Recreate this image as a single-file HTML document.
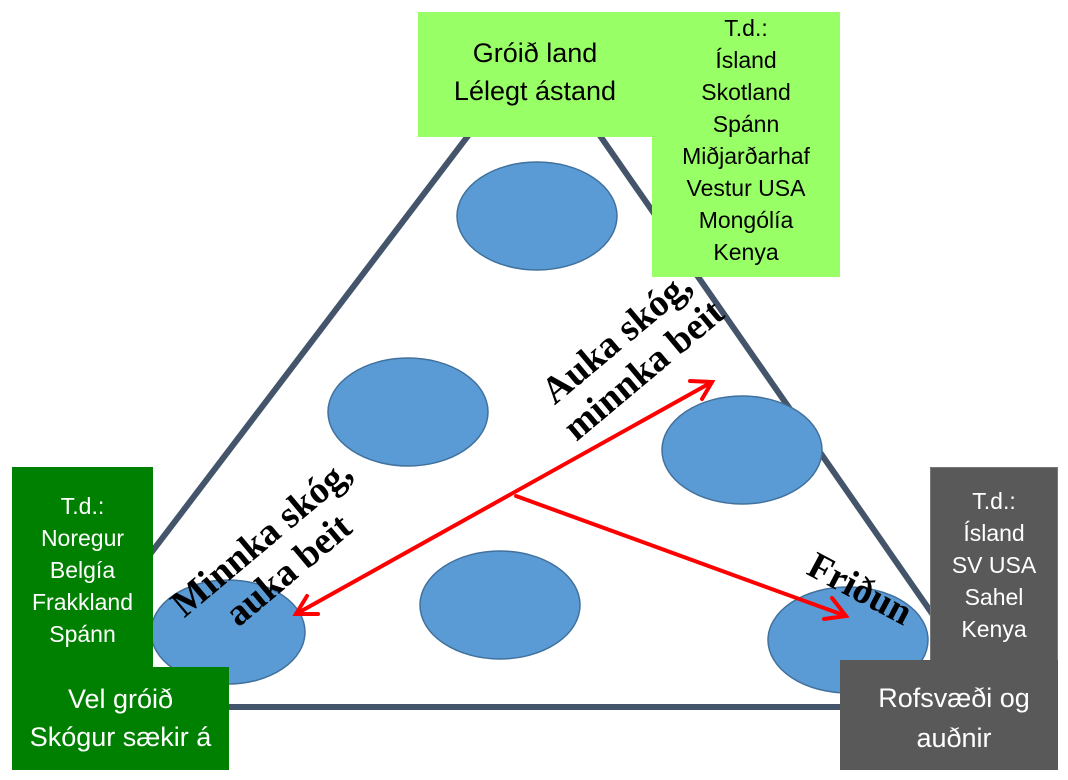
<!DOCTYPE html>
<html><head><meta charset="utf-8"><style>
body{margin:0;width:1068px;height:780px;background:#fff;position:relative;overflow:hidden;font-family:"Liberation Sans",sans-serif}
.b{position:absolute}
.t{position:absolute;text-align:center;font-size:23px;line-height:32px}
.r{position:absolute;font-family:"Liberation Serif",serif;font-weight:bold;font-size:38px;line-height:42px;text-align:center;white-space:nowrap}
</style></head><body>
<svg class="b" style="left:0;top:0" width="1068" height="780">
<polygon points="537,45 34,707 997,707" fill="#fff" stroke="#44546a" stroke-width="6" stroke-linejoin="round"/>
<g fill="#5b9bd5" stroke="#41719c" stroke-width="1.5">
<ellipse cx="537" cy="216" rx="80" ry="54"/>
<ellipse cx="408" cy="412" rx="80" ry="54"/>
<ellipse cx="742" cy="450" rx="80" ry="54"/>
<ellipse cx="500" cy="605" rx="80" ry="54"/>
<ellipse cx="228" cy="632" rx="77" ry="52"/>
<ellipse cx="848" cy="640" rx="80" ry="53"/>
</g>
<g stroke="#f00" stroke-width="4" fill="none" stroke-linecap="round">
<line x1="296" y1="614" x2="712" y2="382"/>
<polyline points="690,381 712,382 702,399"/>
<polyline points="307,596 296,614 318,614"/>
<line x1="516" y1="496" x2="846" y2="616"/>
<polyline points="832,598 846,616 824,619"/>
</g>
</svg>
<div class="b" style="left:418px;top:12px;width:422px;height:125px;background:#99ff66"></div>
<div class="b" style="left:652px;top:12px;width:188px;height:265px;background:#99ff66"></div>
<div class="t" style="left:430px;top:34px;width:210px;font-size:27px;line-height:38px">Gróið land<br>Lélegt ástand</div>
<div class="t" style="left:652px;top:12px;width:188px">T.d.:<br>Ísland<br>Skotland<br>Spánn<br>Miðjarðarhaf<br>Vestur USA<br>Mongólía<br>Kenya</div>
<div class="b" style="left:12px;top:467px;width:141px;height:210px;background:#008000"></div>
<div class="b" style="left:12px;top:667px;width:217px;height:103px;background:#008000"></div>
<div class="t" style="left:12px;top:490px;width:141px;color:#fff">T.d.:<br>Noregur<br>Belgía<br>Frakkland<br>Spánn</div>
<div class="t" style="left:12px;top:680px;width:217px;color:#fff;font-size:27px;line-height:38px">Vel gróið<br>Skógur sækir á</div>
<div class="b" style="left:930px;top:467px;width:128px;height:200px;background:#595959;border:1px solid #777;box-sizing:border-box"></div>
<div class="b" style="left:840px;top:660px;width:218px;height:110px;background:#595959"></div>
<div class="t" style="left:930px;top:485px;width:128px;color:#fff">T.d.:<br>Ísland<br>SV USA<br>Sahel<br>Kenya</div>
<div class="t" style="left:840px;top:678px;width:228px;color:#fff;font-size:27px;line-height:40px">Rofsvæði og<br>auðnir</div>
<div class="r" style="left:520px;top:312px;width:220px;transform:rotate(-40deg)">Auka skóg,<br>minnka beit</div>
<div class="r" style="left:155px;top:512px;width:240px;transform:rotate(-40deg)">Minnka skóg,<br>auka beit</div>
<div class="r" style="left:795px;top:568px;width:130px;transform:rotate(28deg)">Friðun</div>
</body></html>
